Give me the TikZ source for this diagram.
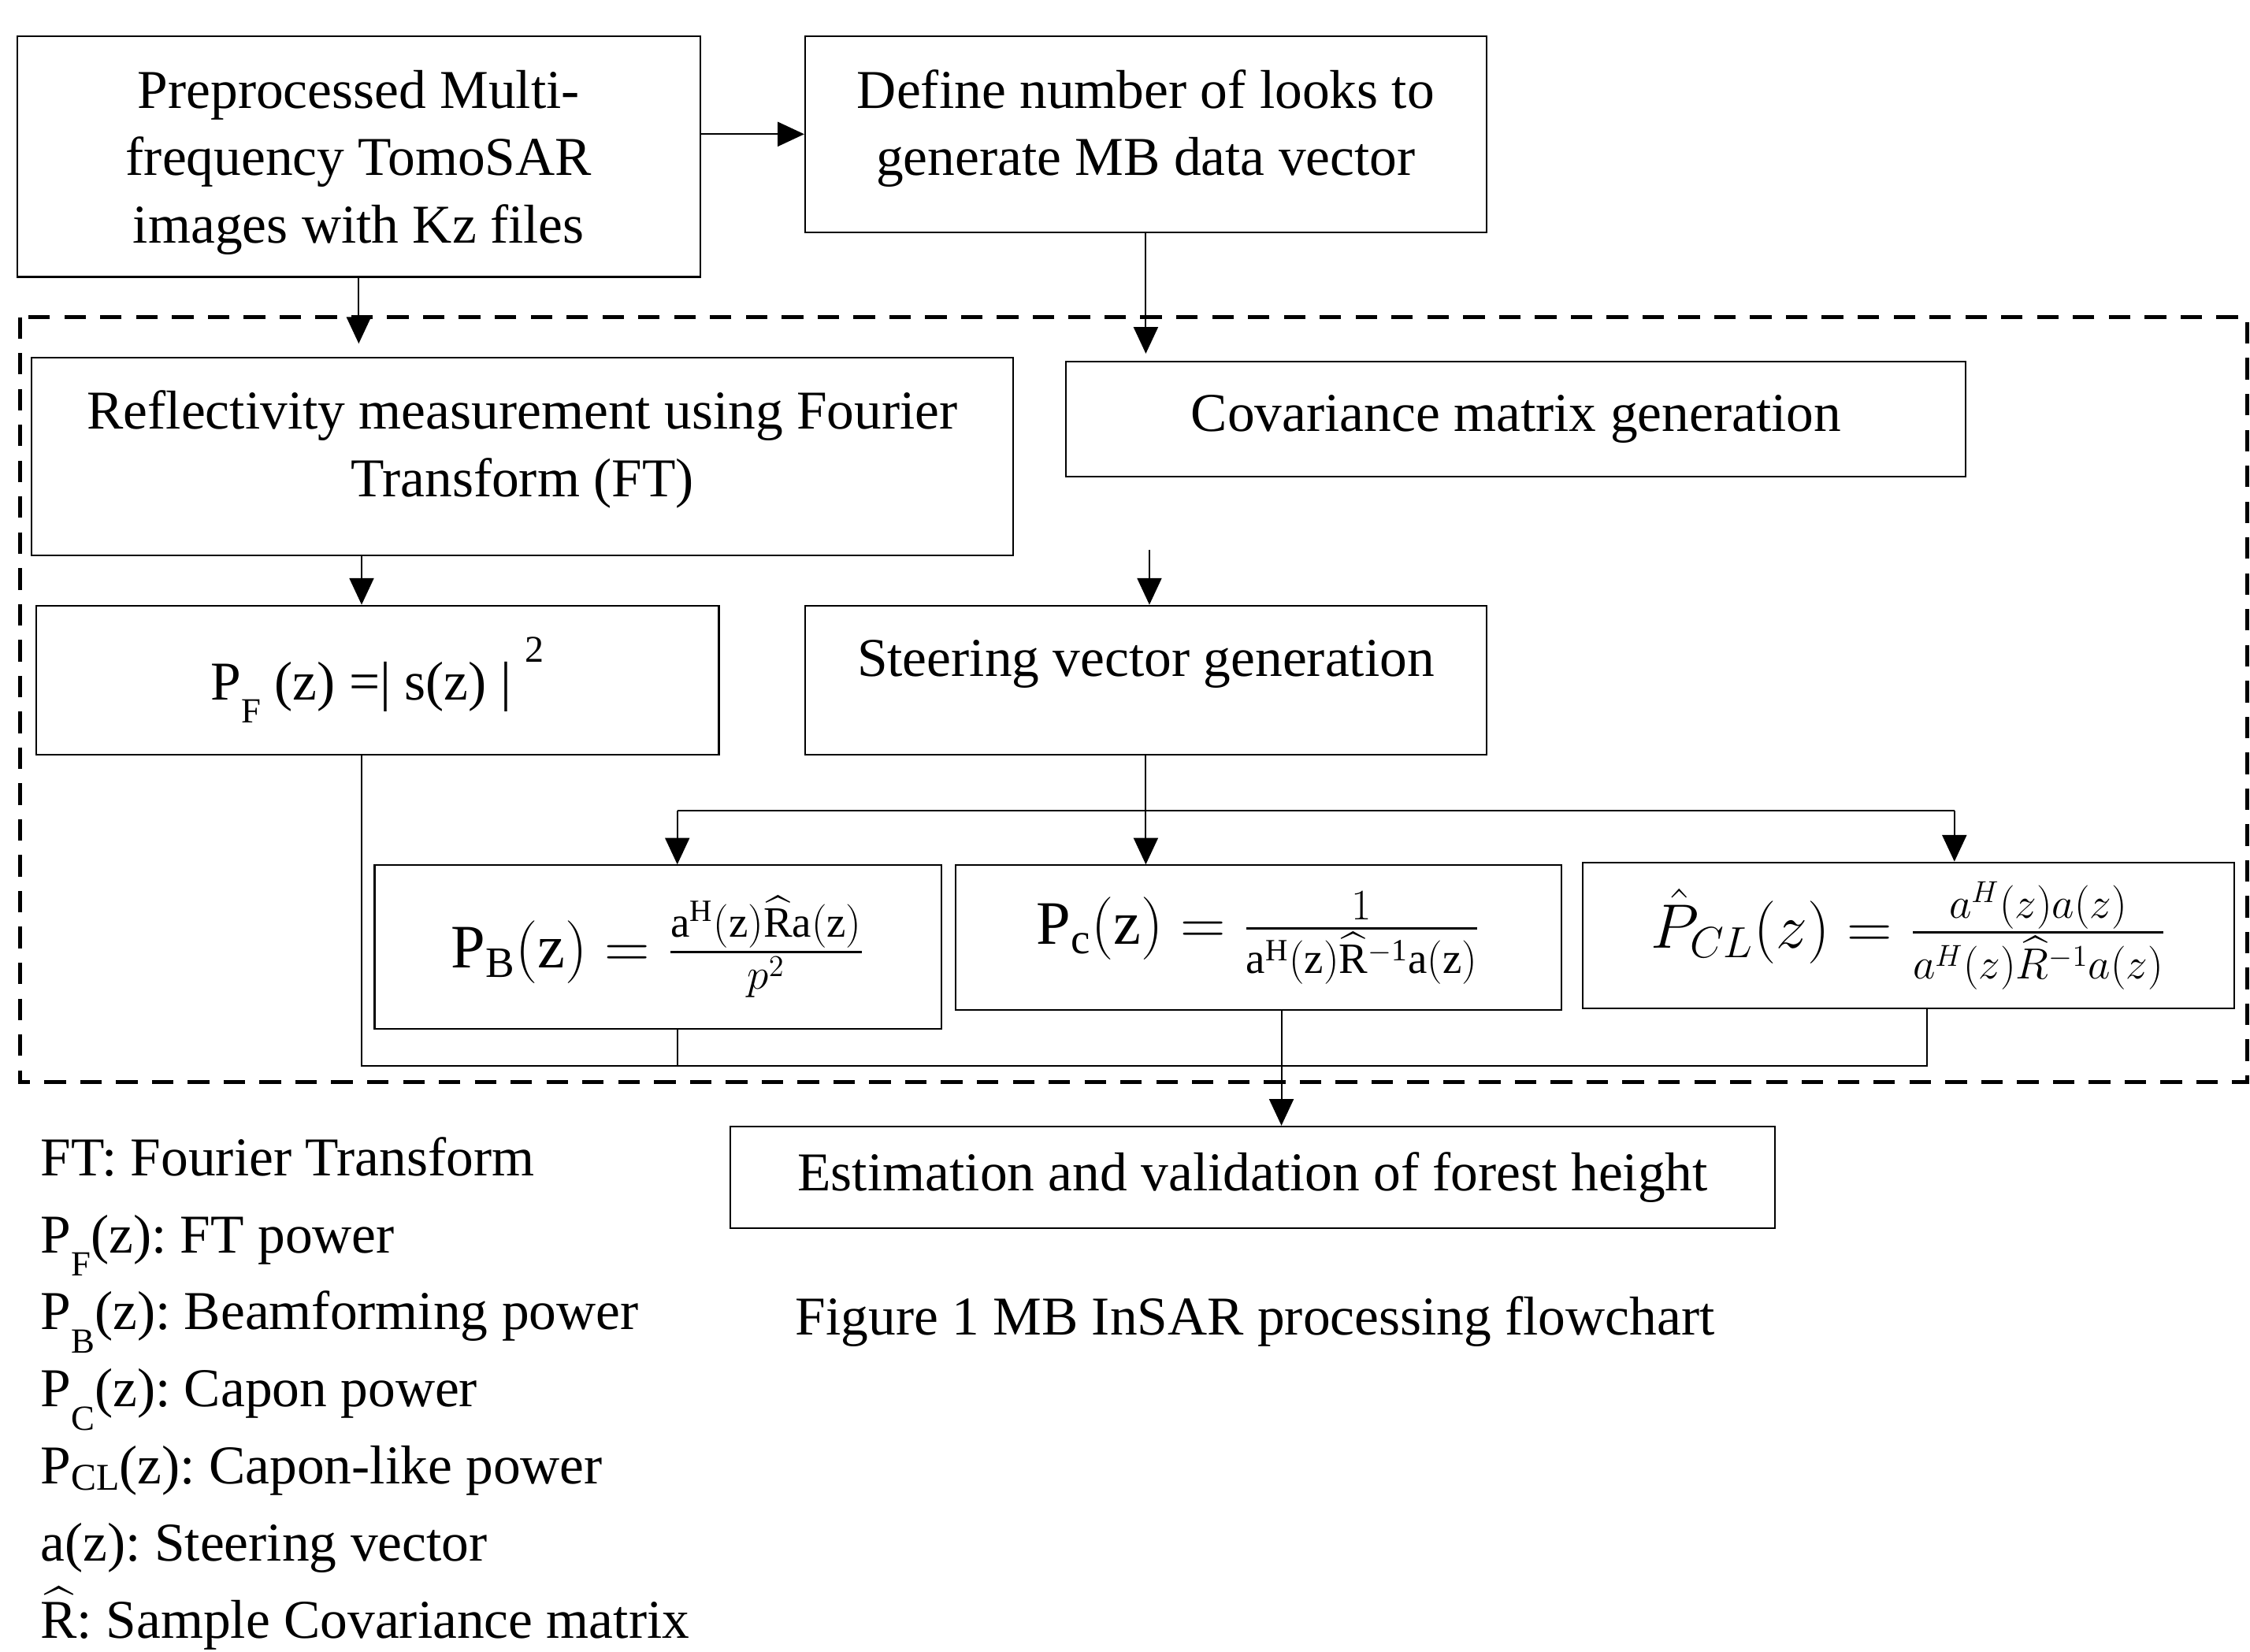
\documentclass[tikz,border=0pt]{standalone}
\usepackage{fontspec}
\setmainfont{Liberation Serif}
\usepackage{amsmath}
\usetikzlibrary{arrows.meta, calc}
\newcommand\lowsub[1]{\raisebox{-0.42em}{\fontsize{14}{14}\selectfont #1}}
\frenchspacing

\begin{document}
\begin{tikzpicture}[x=0.02cm, y=-0.02cm,
  procbox/.style={draw, line width=0.65pt, align=center, inner sep=0pt,
    font=\fontsize{21.7}{26.7}\selectfont},
  eqbox/.style={procbox, font=\fontsize{24.5}{28}\selectfont},
  flow/.style={line width=0.65pt, -{Triangle[length=0.37cm, width=0.34cm]}},
  link/.style={line width=0.65pt},
  plain/.style={inner sep=0pt, align=left, font=\fontsize{21.7}{30.6}\selectfont}]
  \useasboundingbox (0,0) rectangle (1568,1151);

  % inversion stage
  \draw[line width=1.4pt, dash pattern=on 0.3cm off 0.2cm] (14,221) rectangle (1566,754);

  \node[procbox, minimum width=9.52cm, minimum height=3.36cm, text depth=0cm] (prep) at (250,109)
    {Preprocessed Multi-\\frequency TomoSAR\\images with Kz files};
  \node[procbox, minimum width=9.5cm, minimum height=2.74cm, text depth=0.32cm] (looks) at (798.5,93.5)
    {Define number of looks to\\generate MB data vector};
  \node[procbox, minimum width=13.68cm, minimum height=2.76cm, text depth=0.35cm] (refl) at (364,318)
    {Reflectivity measurement using Fourier\\Transform (FT)};
  \node[procbox, minimum width=12.54cm, minimum height=1.6cm] (cov) at (1056.5,292)
    {Covariance matrix generation};
  \node[procbox, minimum width=9.52cm, minimum height=2.08cm] (pf) at (263,474)
    {P\lowsub{F}\ (z) =| s(z) |\ \raisebox{1.5ex}{\fontsize{15}{15}\selectfont 2}};
  \node[procbox, minimum width=9.5cm, minimum height=2.08cm, text depth=0.62cm] (steer) at (798.5,474)
    {Steering vector generation};

  % estimators
  \node[eqbox, minimum width=7.9cm, minimum height=2.28cm] (pb) at (458.5,660)
    {$\mathrm{P_B(z)} = \frac{\mathrm{a^H(z)\widehat{R}a(z)}}{p^2}$};
  \node[eqbox, minimum width=8.44cm, minimum height=2.02cm] (pc) at (877,653.5)
    {$\mathrm{P_c(z)} = \frac{1}{\mathrm{a^H(z)\widehat{R}^{-1}a(z)}}$};
  \node[eqbox, minimum width=9.08cm, minimum height=2.04cm] (pcl) at (1330,652)
    {$\hat{P}_{CL}(z) = \frac{a^H(z)a(z)}{a^H(z)\widehat{R}^{-1}a(z)}$};

  \node[procbox, minimum width=14.56cm, minimum height=1.42cm] (est) at (873,820.5)
    {Estimation and validation of forest height};

  % connectors
  \coordinate (ftx) at (252,0);
  \coordinate (gap) at (801,383);
  \coordinate (bl) at (472,565);
  \coordinate (br) at (1362,565);
  \coordinate (cr) at (1343,743);
  \coordinate (px) at (893,704);

  \draw[flow] (prep.east |- looks.west) -- (looks.west);
  \draw[flow, shorten >=0.18cm] (prep.south) -- (prep.south |- refl.north);
  \draw[flow, shorten >=0.1cm] (looks.south) -- (looks.south |- cov.north);
  \draw[flow] (ftx |- refl.south) -- (ftx |- pf.north);
  \draw[flow] (gap) -- (gap |- steer.north);
  \draw[link] (steer.south) -- (steer.south |- bl);
  \draw[link] (bl) -- (br);
  \draw[flow] (bl) -- (bl |- pb.north);
  \draw[flow] (steer.south |- bl) -- (steer.south |- pc.north);
  \draw[flow] (br) -- (br |- pcl.north);
  \draw[link] (ftx |- pf.south) -- (ftx |- cr) -- (cr) -- (cr |- pcl.south);
  \draw[link] (bl |- pb.south) -- (bl |- cr);
  \draw[flow] (px |- pc.south) -- (px |- est.north);

  % legend and caption
  \node[plain, anchor=north west] (legend) at (28,792)
    {FT: Fourier Transform\\
     P\lowsub{F}(z): FT power\\
     P\lowsub{B}(z): Beamforming power\\
     P\lowsub{C}(z): Capon power\\
     P\raisebox{-0.25ex}{\fontsize{15}{15}\selectfont CL}(z): Capon-like power\\
     a(z): Steering vector\\
     $\widehat{\mathrm{R}}$: Sample Covariance matrix};
  \node[plain, anchor=west] (caption) at (554,921) {Figure 1 MB InSAR processing flowchart};
\end{tikzpicture}
\end{document}
